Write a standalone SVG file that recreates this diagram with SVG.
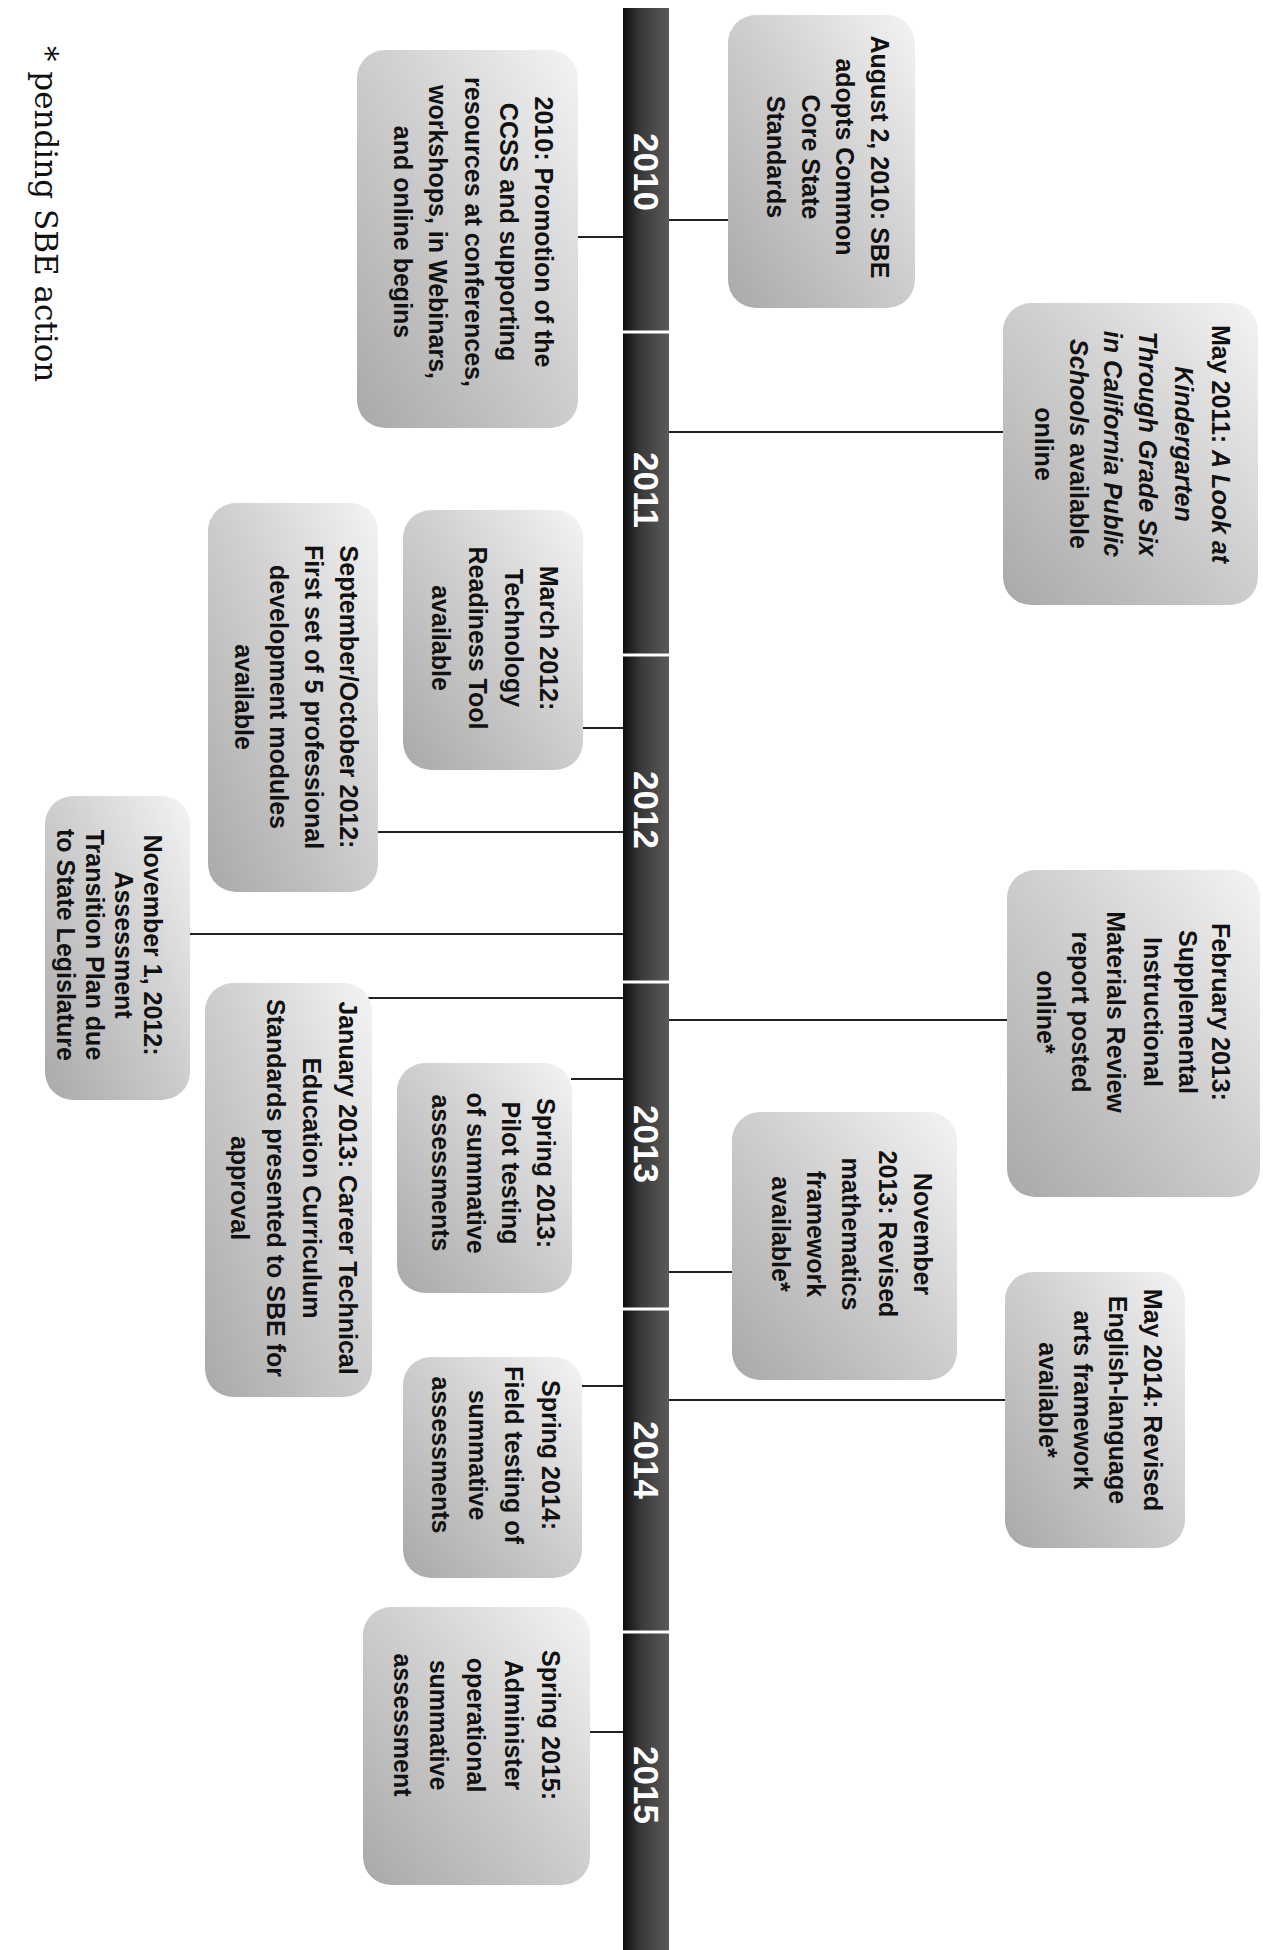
<svg xmlns="http://www.w3.org/2000/svg" width="1263" height="1950" viewBox="0 0 1263 1950">
<defs>
<linearGradient id="boxG" x1="0" y1="0" x2="1" y2="1">
<stop offset="0" stop-color="#f4f4f4"/>
<stop offset="0.45" stop-color="#d0d0d0"/>
<stop offset="1" stop-color="#a9a9a9"/>
</linearGradient>
<linearGradient id="barG" x1="0" y1="0" x2="0" y2="1">
<stop offset="0" stop-color="#5a5a5a"/>
<stop offset="0.6" stop-color="#3a3a3a"/>
<stop offset="1" stop-color="#0e0e0e"/>
</linearGradient>
<style>
.box{fill:url(#boxG);}
.t{font-family:"Liberation Sans",Arial,sans-serif;font-weight:bold;font-size:25px;fill:#111;text-anchor:middle;}
.i{font-style:italic;}
.yr{font-family:"Liberation Sans",Arial,sans-serif;font-weight:bold;font-size:35px;fill:#fff;text-anchor:middle;}
.c{stroke:#222;stroke-width:2;fill:none;}
.sep{stroke:#fff;stroke-width:3;}
.fn{font-family:"DejaVu Serif","Liberation Serif",serif;font-size:31px;fill:#111;}
</style>
</defs>
<rect width="1263" height="1950" fill="#fff"/>
<g transform="translate(1263,0) rotate(90)">
<g id="timeline">
<rect x="8" y="594" width="1942" height="46" fill="url(#barG)"/>
<line class="sep" x1="332" y1="594" x2="332" y2="640"/>
<line class="sep" x1="655" y1="594" x2="655" y2="640"/>
<line class="sep" x1="982" y1="594" x2="982" y2="640"/>
<line class="sep" x1="1309" y1="594" x2="1309" y2="640"/>
<line class="sep" x1="1632" y1="594" x2="1632" y2="640"/>
<text class="yr" x="172" y="629">2010</text>
<text class="yr" x="490" y="629">2011</text>
<text class="yr" x="810" y="629">2012</text>
<text class="yr" x="1144" y="629">2013</text>
<text class="yr" x="1460" y="629">2014</text>
<text class="yr" x="1785" y="629">2015</text>
</g>
<g id="connectors">
<line class="c" x1="220" y1="594" x2="220" y2="530"/>
<line class="c" x1="237" y1="640" x2="237" y2="686"/>
<line class="c" x1="432" y1="594" x2="432" y2="255"/>
<line class="c" x1="728" y1="640" x2="728" y2="682"/>
<line class="c" x1="832" y1="640" x2="832" y2="885"/>
<line class="c" x1="934" y1="640" x2="934" y2="1073"/>
<line class="c" x1="998" y1="640" x2="998" y2="895"/>
<line class="c" x1="1020" y1="594" x2="1020" y2="254"/>
<line class="c" x1="1079" y1="640" x2="1079" y2="692"/>
<line class="c" x1="1272" y1="594" x2="1272" y2="530"/>
<line class="c" x1="1386" y1="640" x2="1386" y2="682"/>
<line class="c" x1="1400" y1="594" x2="1400" y2="256"/>
<line class="c" x1="1732" y1="640" x2="1732" y2="675"/>
</g>
<g id="n1">
<rect class="box" x="15" y="348" width="293" height="187" rx="28"/>
<text class="t" x="157" y="392">August 2, 2010: SBE</text>
<text class="t" x="157" y="427">adopts Common</text>
<text class="t" x="157" y="461">Core State</text>
<text class="t" x="157" y="496">Standards</text>
</g>
<g id="n2">
<rect class="box" x="50" y="685" width="378" height="221" rx="28"/>
<text class="t" x="232" y="728">2010: Promotion of the</text>
<text class="t" x="232" y="763">CCSS and supporting</text>
<text class="t" x="232" y="798">resources at conferences,</text>
<text class="t" x="232" y="834">workshops, in Webinars,</text>
<text class="t" x="232" y="869">and online begins</text>
</g>
<g id="n3">
<rect class="box" x="303" y="5" width="302" height="255" rx="28"/>
<text class="t" x="444" y="51">May 2011: <tspan class="i">A Look at</tspan></text>
<text class="t i" x="444" y="88">Kindergarten</text>
<text class="t i" x="444" y="124">Through Grade Six</text>
<text class="t i" x="444" y="159">in California Public</text>
<text class="t" x="444" y="193"><tspan class="i">Schools</tspan> available</text>
<text class="t" x="444" y="228">online</text>
</g>
<g id="n4">
<rect class="box" x="510" y="680" width="260" height="180" rx="28"/>
<text class="t" x="638" y="723">March 2012:</text>
<text class="t" x="638" y="758">Technology</text>
<text class="t" x="638" y="794">Readiness Tool</text>
<text class="t" x="638" y="831">available</text>
</g>
<g id="n5">
<rect class="box" x="503" y="885" width="389" height="170" rx="28"/>
<text class="t" x="697" y="923">September/October 2012:</text>
<text class="t" x="697" y="958">First set of 5 professional</text>
<text class="t" x="697" y="993">development modules</text>
<text class="t" x="697" y="1028">available</text>
</g>
<g id="n6">
<rect class="box" x="796" y="1073" width="304" height="145" rx="28"/>
<text class="t" x="945" y="1119">November 1, 2012:</text>
<text class="t" x="945" y="1148">Assessment</text>
<text class="t" x="945" y="1177">Transition Plan due</text>
<text class="t" x="945" y="1206">to State Legislature</text>
</g>
<g id="n7">
<rect class="box" x="983" y="891" width="414" height="167" rx="28"/>
<text class="t" x="1188" y="924">January 2013: Career Technical</text>
<text class="t" x="1188" y="960">Education Curriculum</text>
<text class="t" x="1188" y="996">Standards presented to SBE for</text>
<text class="t" x="1188" y="1032">approval</text>
</g>
<g id="n8">
<rect class="box" x="1063" y="691" width="230" height="175" rx="28"/>
<text class="t" x="1173" y="726">Spring 2013:</text>
<text class="t" x="1173" y="761">Pilot testing</text>
<text class="t" x="1173" y="796">of summative</text>
<text class="t" x="1173" y="831">assessments</text>
</g>
<g id="n9">
<rect class="box" x="1112" y="306" width="268" height="225" rx="28"/>
<text class="t" x="1234" y="349">November</text>
<text class="t" x="1234" y="384">2013: Revised</text>
<text class="t" x="1234" y="421">mathematics</text>
<text class="t" x="1234" y="456">framework</text>
<text class="t" x="1234" y="491">available*</text>
</g>
<g id="n10">
<rect class="box" x="1272" y="78" width="276" height="180" rx="28"/>
<text class="t" x="1400" y="119">May 2014: Revised</text>
<text class="t" x="1400" y="154">English-language</text>
<text class="t" x="1400" y="189">arts framework</text>
<text class="t" x="1400" y="224">available*</text>
</g>
<g id="n11">
<rect class="box" x="1357" y="681" width="221" height="179" rx="28"/>
<text class="t" x="1455" y="721">Spring 2014:</text>
<text class="t" x="1455" y="758">Field testing of</text>
<text class="t" x="1455" y="794">summative</text>
<text class="t" x="1455" y="831">assessments</text>
</g>
<g id="n12">
<rect class="box" x="1607" y="673" width="278" height="227" rx="28"/>
<text class="t" x="1725" y="721">Spring 2015:</text>
<text class="t" x="1725" y="758">Administer</text>
<text class="t" x="1725" y="796">operational</text>
<text class="t" x="1725" y="833">summative</text>
<text class="t" x="1725" y="869">assessment</text>
</g>
<g id="n13">
<rect class="box" x="870" y="3" width="327" height="253" rx="28"/>
<text class="t" x="1012" y="51">February 2013:</text>
<text class="t" x="1012" y="84">Supplemental</text>
<text class="t" x="1012" y="119">Instructional</text>
<text class="t" x="1012" y="156">Materials Review</text>
<text class="t" x="1012" y="191">report posted</text>
<text class="t" x="1012" y="226">online*</text>
</g>
<g id="footnote">
<text class="fn" x="46" y="1228">* pending SBE action</text>
</g>
</g>
</svg>
